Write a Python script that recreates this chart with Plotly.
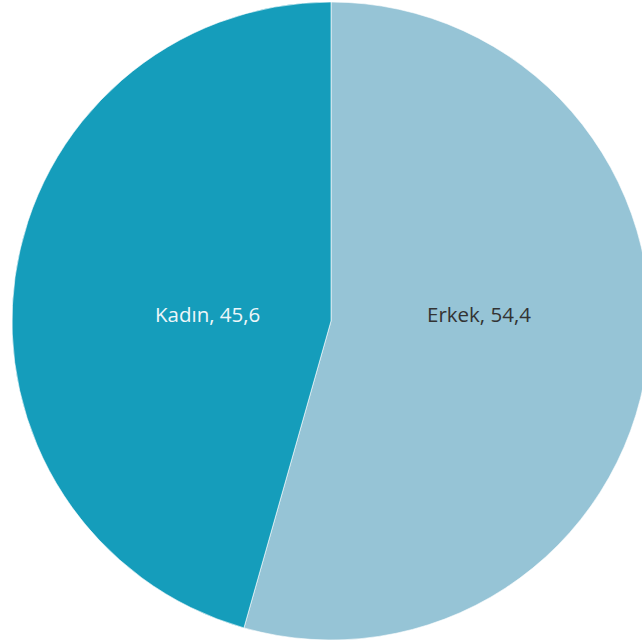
import plotly.graph_objects as go

labels = ["Erkek", "Kadın"]
values = [54.4, 45.6]
colors = ["#96C4D6", "#159DBB"]
text_colors = ["#333333", "#EEF6F9"]
# label anchor positions (pixels) for the two slices
label_x = [479, 207]
label_y = [314, 314]

W, H = 660, 643
fig = go.Figure(go.Pie(
    labels=labels,
    values=values,
    sort=False,
    direction="clockwise",
    rotation=0,
    marker=dict(colors=colors, line=dict(color="rgba(255,255,255,0.6)", width=1)),
    textinfo="none",
    hoverinfo="skip",
    showlegend=False,
    domain=dict(x=[12 / W, 650 / W], y=[3 / H, 641 / H]),
))
for lab, val, tc, lx, ly in zip(labels, values, text_colors, label_x, label_y):
    fig.add_annotation(
        x=lx / W, y=1 - ly / H, xref="paper", yref="paper",
        text=f"{lab}, {val:.1f}".replace(".", ","),
        showarrow=False,
        font=dict(family="Open Sans", size=20.5, color=tc),
        xanchor="center", yanchor="middle",
    )
fig.update_layout(
    width=W, height=H,
    margin=dict(l=0, r=0, t=0, b=0),
    paper_bgcolor="white",
    separators=",.",
)
fig.write_html(
    "out.html",
    config={"displayModeBar": False},
    post_script="document.body.style.margin='0';document.body.style.overflow='hidden';document.documentElement.style.overflow='hidden';",
)
